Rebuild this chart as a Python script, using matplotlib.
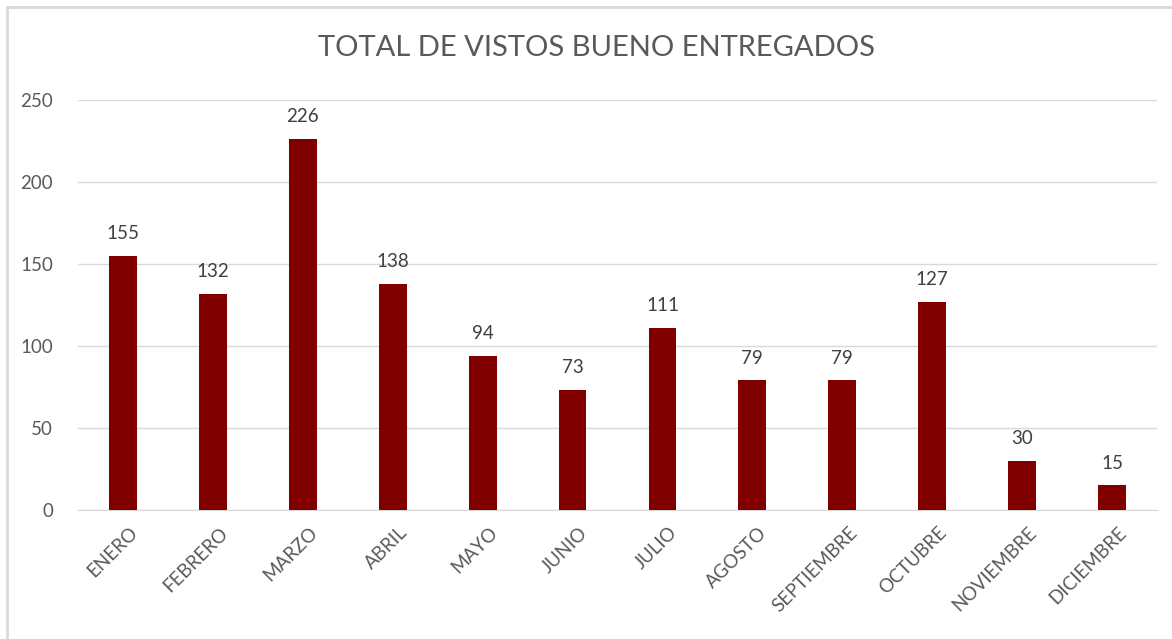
import matplotlib.pyplot as plt
import matplotlib.transforms as mtransforms
from matplotlib.patches import Rectangle

meses = ['ENERO', 'FEBRERO', 'MARZO', 'ABRIL', 'MAYO', 'JUNIO', 'JULIO',
         'AGOSTO', 'SEPTIEMBRE', 'OCTUBRE', 'NOVIEMBRE', 'DICIEMBRE']
vistos = [155, 132, 226, 138, 94, 73, 111, 79, 79, 127, 30, 15]
y_ticks = [0, 50, 100, 150, 200, 250]

plt.rcParams['font.family'] = ['Lato', 'DejaVu Sans']

fig = plt.figure(figsize=(11.72, 6.39), dpi=100)
ax = fig.add_axes([78 / 1172, 1 - 510 / 639, (1157 - 78) / 1172, 410 / 639])

# marco del gráfico
fig.patches.append(Rectangle((7 / 1172, -0.1), 1.2, 1 - 7 / 639 + 0.1,
                             transform=fig.transFigure, fill=False,
                             edgecolor='#d9d9d9', linewidth=2))

x = range(len(meses))
bars = ax.bar(x, vistos, width=0.31, color='#800000', zorder=3)

for xi, v in zip(x, vistos):
    ax.annotate(f'{v}', (xi, v), xytext=(0, 10), textcoords='offset points',
                ha='center', va='bottom', fontsize=13.5, color='#404040')

ax.set_xlim(-0.5, len(meses) - 0.5)
ax.set_ylim(0, 250)
ax.set_yticks(y_ticks)
ax.set_xticks(list(x))
ax.set_xticklabels(meses, rotation=45, ha='right', rotation_mode='anchor')
ax.tick_params(axis='both', length=0, labelsize=13.5, labelcolor='#595959')
ax.tick_params(axis='y', pad=18)
ax.tick_params(axis='x', pad=10)

# desplazar un poco las etiquetas del eje x hacia la derecha
offset = mtransforms.ScaledTranslation(6 / 100, 0, fig.dpi_scale_trans)
for lbl in ax.get_xticklabels():
    lbl.set_transform(lbl.get_transform() + offset)

ax.grid(axis='y', color='#d9d9d9', linewidth=1, zorder=0)
for s in ['top', 'right', 'left']:
    ax.spines[s].set_visible(False)
ax.spines['bottom'].set_color('#d9d9d9')

fig.text(596 / 1172, 1 - 48 / 639, 'TOTAL DE VISTOS BUENO ENTREGADOS', ha='center',
         va='center', fontsize=21, color='#595959')

plt.savefig('out.png', dpi=100)
